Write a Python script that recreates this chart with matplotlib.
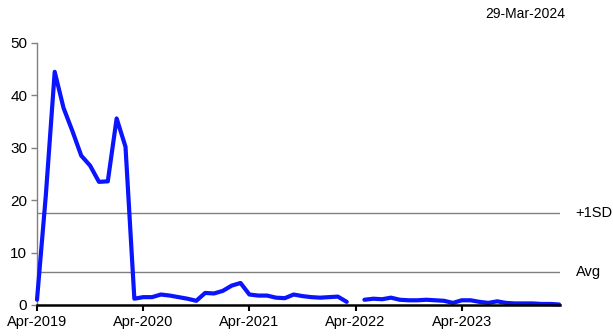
import numpy as np
import matplotlib
matplotlib.use('Agg')
import matplotlib.pyplot as plt

# monthly readings, Apr-2019 .. Mar-2024 (nan = no reading)
values = [1.0, 21.0, 44.5, 37.6, 33.2, 28.5, 26.6, 23.5, 23.6, 35.6,
          30.2, 1.2, 1.5, 1.5, 2.0, 1.8, 1.5, 1.2, 0.8, 2.3,
          2.2, 2.7, 3.7, 4.2, 2.0, 1.8, 1.8, 1.4, 1.3, 2.0,
          1.7, 1.5, 1.4, 1.5, 1.6, 0.6, np.nan, 1.0, 1.2, 1.1,
          1.4, 1.0, 0.9, 0.9, 1.0, 0.9, 0.8, 0.4, 0.9, 0.9,
          0.6, 0.4, 0.7, 0.4, 0.3, 0.3, 0.3, 0.2, 0.2, 0.1]
tick_pos = [0, 12, 24, 36, 48]
tick_labels = ['Apr-2019', 'Apr-2020', 'Apr-2021', 'Apr-2022', 'Apr-2023']
avg = 6.3
sd1 = 17.6
date_str = '29-Mar-2024'

plt.rcParams['font.family'] = ['Liberation Sans', 'DejaVu Sans']

fig = plt.figure(figsize=(6.13, 3.36), dpi=100)
ax = fig.add_axes([37/613, 31/336, 523/613, 262/336])

x = np.arange(len(values))
ax.axhline(sd1, color='#808080', lw=1.0, zorder=1)
ax.axhline(avg, color='#808080', lw=1.0, zorder=1)
ax.plot(x, values, color='#0A14FF', lw=3.0, solid_capstyle='round',
        solid_joinstyle='round', zorder=3, clip_on=False)

ax.set_xlim(0, 59.1)
ax.set_ylim(0, 50)
ax.set_yticks(range(0, 51, 10))
ax.set_xticks(tick_pos)
ax.set_xticklabels(tick_labels)

for s in ['top', 'right']:
    ax.spines[s].set_visible(False)
ax.spines['left'].set_color('#808080')
ax.spines['left'].set_linewidth(1.0)
ax.spines['bottom'].set_color('black')
ax.spines['bottom'].set_linewidth(1.8)
ax.spines['bottom'].set_zorder(4)
ax.tick_params(axis='y', color='#808080', length=4, width=1.0, labelsize=11, pad=3)
ax.tick_params(axis='x', color='black', length=4, width=1.5, labelsize=10.5, pad=3)

ax.text(1.03, sd1, '+1SD', transform=ax.get_yaxis_transform(), va='center', fontsize=10.5)
ax.text(1.03, avg, 'Avg', transform=ax.get_yaxis_transform(), va='center', fontsize=10.5)
fig.text(565/613, 1 - 14/336, date_str, ha='right', va='center', fontsize=10)

fig.savefig('out.png', dpi=100)
